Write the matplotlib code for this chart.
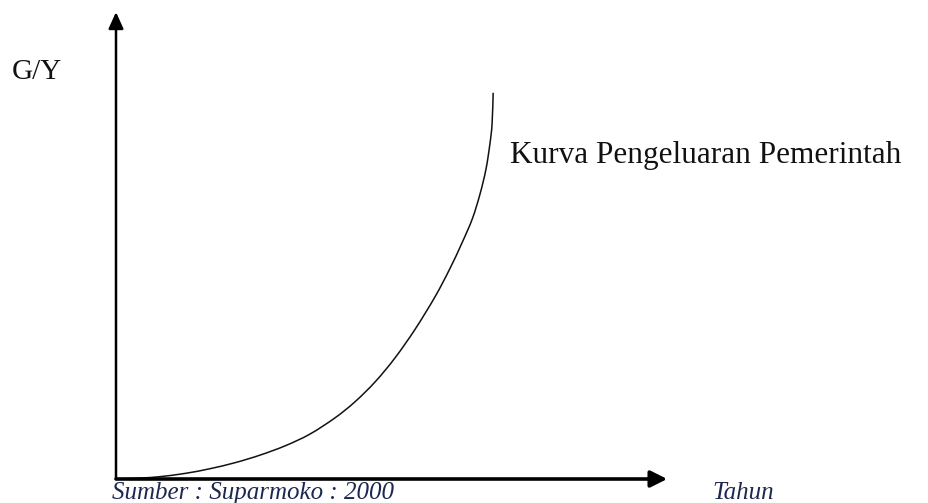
import matplotlib.pyplot as plt
from matplotlib.path import Path
from matplotlib.patches import PathPatch

# curve (x = Tahun, y = G/Y, arbitrary units 0..10)
tahun = [0, 0.44, 0.80, 1.26, 1.71, 2.17, 2.62, 3.08, 3.53, 3.99, 4.35, 4.72,
         5.08, 5.45, 5.81, 6.08, 6.30, 6.49, 6.63, 6.74, 6.81, 6.85, 6.87]
gy = [0, 0.02, 0.05, 0.12, 0.22, 0.35, 0.51, 0.71, 0.96, 1.31, 1.65, 2.08,
      2.59, 3.21, 3.90, 4.50, 5.05, 5.57, 6.10, 6.64, 7.17, 7.60, 8.27]

y_label = 'G/Y'
x_label = 'Tahun'
curve_label = 'Kurva Pengeluaran Pemerintah'
source = 'Sumber : Suparmoko : 2000'

plt.rcParams['font.family'] = ['Liberation Serif', 'DejaVu Serif']

fig = plt.figure(figsize=(9.29, 5.03), dpi=100)
ax = fig.add_axes([116 / 929, 24 / 503, 549 / 929, 467 / 503])
ax.set_xlim(0, 10)
ax.set_ylim(0, 10)
ax.axis('off')

# smooth drawing through the read points (catmull-rom -> bezier)
pts = list(zip(tahun, gy))
verts = [pts[0]]
codes = [Path.MOVETO]
n = len(pts)
for i in range(n - 1):
    p0 = pts[max(i - 1, 0)]
    p1 = pts[i]
    p2 = pts[i + 1]
    p3 = pts[min(i + 2, n - 1)]
    c1 = (p1[0] + (p2[0] - p0[0]) / 6, p1[1] + (p2[1] - p0[1]) / 6)
    c2 = (p2[0] - (p3[0] - p1[0]) / 6, p2[1] - (p3[1] - p1[1]) / 6)
    verts += [c1, c2, p2]
    codes += [Path.CURVE4] * 3
ax.add_patch(PathPatch(Path(verts, codes), facecolor='none', edgecolor='#111111',
                       lw=1.1, clip_on=False))

# axes with arrows
ax.annotate('', xy=(0, 1), xytext=(0, 0), xycoords='axes fraction',
            arrowprops=dict(arrowstyle='-|>,head_length=1.0,head_width=0.45', lw=1.8, color='black',
                            shrinkA=0, shrinkB=0))
ax.annotate('', xy=(1.004, 0), xytext=(0, 0), xycoords='axes fraction',
            arrowprops=dict(arrowstyle='-|>,head_length=1.0,head_width=0.5', lw=2.6, color='black',
                            shrinkA=0, shrinkB=0))

fig.text(12 / 929, 1 - 72 / 503, y_label, fontsize=21, va='center', ha='left', color='#111111')
fig.text(510 / 929, 1 - 155 / 503, curve_label, fontsize=22.5, va='center', ha='left', color='#111111')
fig.text(112 / 929, 1 - 499 / 503, source, fontsize=18, style='italic', va='baseline', ha='left',
         color='#1c2850')
fig.text(712 / 929, 1 - 499 / 503, x_label, fontsize=18, style='italic', va='baseline', ha='left',
         color='#1c2850')

fig.savefig('out.png', dpi=100)
